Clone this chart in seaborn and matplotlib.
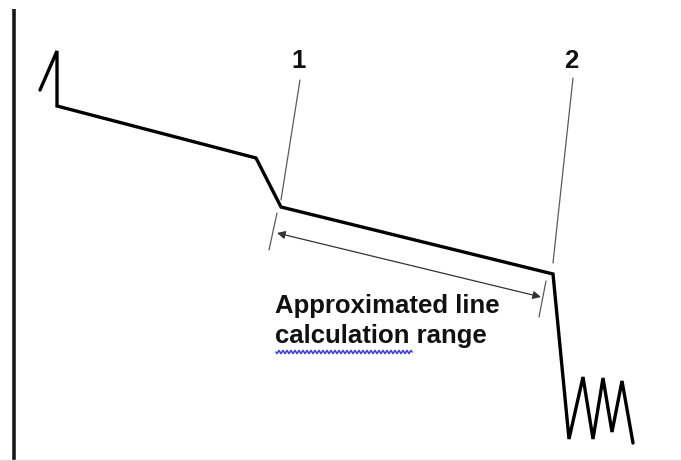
import matplotlib
matplotlib.use("Agg")
import matplotlib.pyplot as plt
import seaborn as sns
import pandas as pd

# OTDR-style trace, positions in picture units (y grows downward)
trace_x = [40, 57, 57, 256, 281, 553, 569, 583, 593, 603, 612, 622, 633]
trace_y = [90, 51, 106, 158, 207, 274, 439, 377, 439, 378, 432, 381, 443]

# event markers: label, label position, upper tick line, lower tick line
marker_labels = ["1", "2"]
marker_label_x = [299, 571]
marker_upper_x = [(300, 281), (573, 553)]
marker_upper_y = [(80, 200), (78, 263)]
marker_lower_x = [(277, 269), (546, 539)]
marker_lower_y = [(213, 250), (281, 317)]

# calculation range arrow
arrow_start = (277, 233)
arrow_end = (541, 297)
range_lines = ["Approximated line", "calculation range"]

sns.set_style("white")
plt.rcParams["font.family"] = ["Liberation Sans", "DejaVu Sans"]

fig = plt.figure(figsize=(6.81, 4.61), dpi=100)
ax = fig.add_axes([0, 0, 1, 1])

# vertical axis line
ax.plot([14, 14], [9, 461], color="#1a1a1a", lw=2.6, solid_capstyle="butt")
# light bottom border
ax.plot([0, 681], [460, 460], color="#dcdcdc", lw=1)

df = pd.DataFrame({"dist": trace_x, "level": trace_y})
sns.lineplot(data=df, x="dist", y="level", sort=False, estimator=None,
             color="black", lw=2.4, ax=ax)
ax.lines[-1].set_solid_joinstyle("miter")
ax.set_xlim(0, 681)
ax.set_ylim(461, 0)
ax.axis("off")

for i, lab in enumerate(marker_labels):
    ax.plot(marker_upper_x[i], marker_upper_y[i], color="#5a5a5a", lw=0.9)
    ax.plot(marker_lower_x[i], marker_lower_y[i], color="#5a5a5a", lw=0.9)
    ax.text(marker_label_x[i], 68, lab, ha="center", va="baseline",
            fontsize=18.5, fontweight="bold", color="#111111")

ax.annotate("", xy=arrow_end, xytext=arrow_start,
            arrowprops=dict(arrowstyle="<|-|>", color="#333333", lw=0.9,
                            mutation_scale=12, shrinkA=0, shrinkB=0))

ax.text(275, 313, range_lines[0], ha="left", va="baseline",
        fontsize=18.5, fontweight="bold", color="#111111")
ax.text(275, 343, range_lines[1], ha="left", va="baseline",
        fontsize=18.5, fontweight="bold", color="#111111")

# spell-check squiggle under "calculation"
squiggle, = ax.plot([276, 412], [352, 352], color="#3a3aff", lw=1.1)
squiggle.set_sketch_params(1.6, 4, 1)

fig.savefig("out.png", dpi=100)
